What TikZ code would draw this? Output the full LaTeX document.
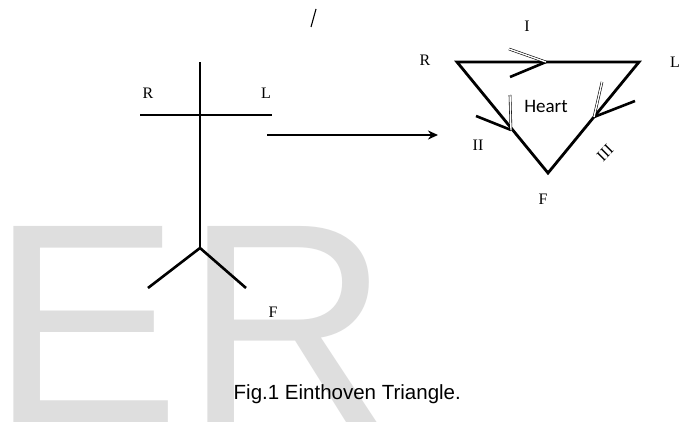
\documentclass[tikz,border=0pt]{standalone}
\usepackage{fontspec}
\setmainfont{Liberation Serif}
\newfontfamily\capfont{Liberation Sans}
\newfontfamily\heartfont{Carlito}
\usetikzlibrary{arrows.meta}
\definecolor{wmgray}{RGB}{222,222,222}
\tikzset{
  limb/.style={line width=2.6pt},
  side/.style={line width=2.8pt, line join=miter},
  barb/.style={line width=2.6pt},
  hollowbarb/.style={double, double distance=1.4pt, line width=0.6pt},
  lbl/.style={font=\fontsize{16}{16}\selectfont, inner sep=0pt},
  wmark/.style={anchor=base west, inner sep=0pt, text=wmgray, font=\capfont\fontsize{285}{285}\selectfont}
}

\begin{document}
\begin{tikzpicture}[x=1pt, y=-1pt]
    \clip (0,0) rectangle (686,423);
    \fill[white] (0,0) rectangle (686,423);
    \node[wmark] (wmE) at (-9.5,422) {E};
    \node[wmark] (wmR) at (184,422) {R};

    \coordinate (head) at (200,62);
    \coordinate (hip) at (200,248);
    \coordinate (handR) at (140,115);
    \coordinate (handL) at (272,115);
    \coordinate (footR) at (148,288);
    \coordinate (footL) at (246,288);
    \draw[limb] (head) -- (hip);
    \draw[limb] (handR) -- (handL);
    \draw[limb] (footR) -- (hip) -- (footL);
    \node[lbl] (bodyR) at (148,93) {R};
    \node[lbl] (bodyL) at (266,93) {L};
    \node[lbl] (bodyF) at (273,312) {F};

    \coordinate (from) at (267,135);
    \coordinate (to) at (438,135);
    \draw[limb, -{Stealth[length=10pt, width=9pt]}] (from) -- (to);

    \coordinate (cR) at (457,62);
    \coordinate (cL) at (639,62);
    \coordinate (cF) at (548,173);
    \draw[side] (cR) -- (cL) -- (cF) -- cycle;

    \coordinate (tipI) at (546,62);
    \coordinate (tipII) at (511,130);
    \coordinate (tipIII) at (594,117);
    \draw[barb] (510,77) -- (tipI);
    \draw[hollowbarb] (509,49) -- (tipI);
    \draw[barb] (476,116) -- (tipII);
    \draw[hollowbarb] (510,95) -- (tipII);
    \draw[barb] (635,101) -- (tipIII);
    \draw[hollowbarb] (602,82) -- (tipIII);

    \node[lbl] (triR) at (425,60) {R};
    \node[lbl] (triL) at (675,62) {L};
    \node[lbl] (triF) at (543,199) {F};
    \node[lbl] (leadI) at (527,26) {I};
    \node[lbl] (leadII) at (478,145) {II};
    \node[lbl, rotate=45] (leadIII) at (605,153) {III};
    \node[inner sep=0pt, font=\heartfont\fontsize{19}{19}\selectfont] (heart) at (546,106) {Heart};

    \draw[line width=1.1pt] (316,9) -- (311,27);

    \node[anchor=base west, inner sep=0pt, font=\capfont\fontsize{20.5}{20.5}\selectfont] (caption) at (233.5,399) {Fig.1 Einthoven Triangle.};
\end{tikzpicture}
\end{document}
